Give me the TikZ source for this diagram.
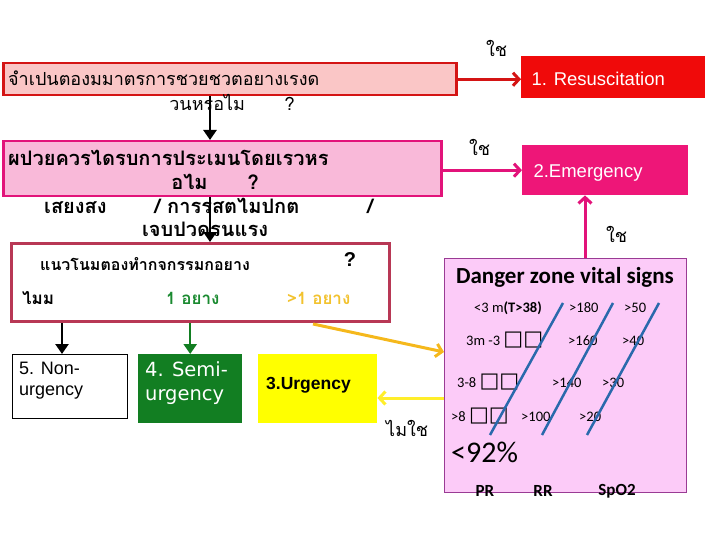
\documentclass[tikz,border=0pt]{standalone}
\usepackage{fontspec}
\setmainfont{Liberation Sans}
\newfontfamily\thai[Script=Thai]{Loma}
\newfontfamily\calib{Carlito}
\newfontfamily\dejavu{DejaVu Sans}
\usetikzlibrary{arrows.meta}
\definecolor{askfill}{HTML}{FAC6C6}
\definecolor{askline}{HTML}{D41414}
\definecolor{resus}{HTML}{F00A0A}
\definecolor{evalfill}{HTML}{F9B9D9}
\definecolor{evalline}{HTML}{E2137A}
\definecolor{emerg}{HTML}{EE1678}
\definecolor{needline}{HTML}{B83855}
\definecolor{semigreen}{HTML}{127E22}
\definecolor{onegreen}{HTML}{1A8A30}
\definecolor{urgyellow}{HTML}{FFFF00}
\definecolor{noyellow}{HTML}{FFEE2A}
\definecolor{moreorange}{HTML}{F5B81C}
\definecolor{morefont}{HTML}{F2C22E}
\definecolor{dangerfill}{HTML}{FCCBF8}
\definecolor{dangerline}{HTML}{9A3B94}
\definecolor{slash}{HTML}{2A69AC}
\tikzset{
  box/.style={draw, inner sep=0pt, anchor=north west},
  th/.style={font=\thai\fontsize{18}{20}\selectfont, inner sep=0pt, anchor=west},
  thb/.style={font=\thai\bfseries\fontsize{20}{22}\selectfont, inner sep=0pt, anchor=west},
  ths/.style={font=\thai\bfseries\fontsize{17}{19}\selectfont, inner sep=0pt, anchor=west},
  vs/.style={font=\calib\fontsize{14.5}{16}\selectfont, inner sep=0pt, anchor=west},
  down/.style={-{Triangle[length=10pt,width=13pt]}, line width=2.5pt},
  link/.style={-{Straight Barb[length=6pt,width=13pt]}, line width=3pt},
  slashline/.style={slash, line width=2.5pt}
}
\begin{document}
\begin{tikzpicture}[x=1pt,y=-1pt]
\useasboundingbox (0,0) rectangle (720,540);
% boxes
\node[box, fill=askfill, draw=askline, line width=2.5pt, minimum width=453pt, minimum height=32pt] (ask) at (2,62) {};
\node[box, fill=resus, draw=none, minimum width=184pt, minimum height=42pt] (resus) at (521,56) {};
\node[box, fill=evalfill, draw=evalline, line width=2.5pt, minimum width=438pt, minimum height=55pt] (eval) at (2,140) {};
\node[box, fill=emerg, draw=none, minimum width=166pt, minimum height=50pt] (emerg) at (522,145) {};
\node[box, fill=white, draw=needline, line width=3pt, minimum width=378pt, minimum height=78pt] (need) at (10,242) {};
\node[box, fill=white, draw=black, line width=1pt, minimum width=115pt, minimum height=64pt] (non) at (12,354) {};
\node[box, fill=semigreen, draw=none, minimum width=104pt, minimum height=69pt] (semi) at (138,354) {};
\node[box, fill=urgyellow, draw=none, minimum width=119pt, minimum height=69pt] (urg) at (258,354) {};
\node[box, fill=dangerfill, draw=dangerline, line width=1pt, minimum width=242pt, minimum height=234pt] (danger) at (444,258) {};

% texts in the boxes
\node[th] (askt) at (8,78) {จำเปนตองมมาตรการชวยชวตอยางเรงด};
\node[th, anchor=center] (askt2) at (232,102) {วนหรอไม\hspace{2.2em}?};
\node[anchor=west, text=white, font=\fontsize{18.5}{20}\selectfont] (resust) at (528,79) {1. Resuscitation};
\node[thb] (evalt) at (8,158) {ผปวยควรไดรบการประเมนโดยเรวหร};
\node[thb, anchor=center] (evalt2) at (215,182) {อไม\hspace{2em}?};
\node[thb] (sign) at (44,206) {เสยงสง\hspace{2.4em}/ การรสตไมปกต\hspace{3.4em}/};
\node[thb, anchor=center] (pain) at (205,229) {เจบปวดรนแรง};
\node[anchor=west, text=white, font=\fontsize{18.5}{20}\selectfont] (emergt) at (530,173) {2.Emergency};
\node[ths, font=\thai\bfseries\fontsize{16}{18}\selectfont] (needt) at (40,264) {แนวโนมตองทำกจกรรมกอยาง};
\node[anchor=center, font=\bfseries\fontsize{20}{22}\selectfont] (needq) at (350,260) {?};
\node[ths] (none) at (22,298) {ไมม};
\node[ths, text=onegreen] (one) at (166,298) {1 อยาง};
\node[ths, text=morefont] (more) at (287,298) {>1 อยาง};
\node[anchor=north west, inner sep=0pt, align=left, font=\fontsize{18}{21}\selectfont] (nont) at (19,362) {5. Non-\\urgency};
\node[anchor=north west, inner sep=0pt, align=left, text=white, font=\dejavu\fontsize{19.5}{24}\selectfont] (semit) at (145,361) {4. Semi-\\urgency};
\node[anchor=west, inner sep=0pt, font=\bfseries\fontsize{17.5}{19}\selectfont] (urgt) at (266,385) {3.Urgency};

% danger zone
\node[anchor=center, inner sep=0pt, font=\calib\bfseries\fontsize{23}{25}\selectfont] (title) at (565,277) {Danger zone vital signs};
\node[vs] (r1) at (474,308) {<3 m\textbf{(T>38)}};
\node[vs] (r1b) at (569,308) {>180};
\node[vs] (r1c) at (624,308) {>50};
\node[vs] (r2) at (466,340) {3m -3 {\dejavu\fontsize{21}{21}\selectfont □□}};
\node[vs] (r2b) at (568,341) {>160};
\node[vs] (r2c) at (622,341) {>40};
\node[vs] (r3) at (457,382) {3-8 {\dejavu\fontsize{21}{21}\selectfont □□}};
\node[vs] (r3b) at (552,383) {>140};
\node[vs] (r3c) at (602,383) {>30};
\node[vs] (r4) at (451,416) {>8 {\dejavu\fontsize{21}{21}\selectfont □□}};
\node[vs] (r4b) at (521,417) {>100};
\node[vs] (r4c) at (579,417) {>20};
\node[vs, font=\calib\fontsize{30}{32}\selectfont] (spo) at (451,452) {<92\%};
\node[vs, font=\calib\bfseries\fontsize{17}{19}\selectfont, anchor=center] (pr) at (485,491) {PR};
\node[vs, font=\calib\bfseries\fontsize{17}{19}\selectfont, anchor=center] (rr) at (543,491) {RR};
\node[vs, font=\calib\bfseries\fontsize{17}{19}\selectfont, anchor=center] (sp) at (617,491) {SpO2};
\draw[slashline] (563,303) -- (490,435);
\draw[slashline] (613,303) -- (542,435);
\draw[slashline] (659,303) -- (587,435);

% connectors
\coordinate (mid) at (210,0);
\coordinate (up) at (585,0);
\coordinate (orA) at (313,324);
\coordinate (orB) at (0,352);
\coordinate (yl) at (0,398);
\draw[down] (ask.south -| mid) -- (eval.north -| mid);
\draw[down] (eval.south -| mid) -- (need.north -| mid);
\draw[down] (need.south -| 62,0) -- (non.north -| 62,0);
\draw[down, semigreen] (need.south -| semi.north) -- (semi.north);
\draw[link, askline] (ask.east) -- (ask.east -| resus.west);
\draw[link, evalline] (eval.east |- emerg.west) -- (emerg.west);
\draw[link, evalline] (danger.north -| up) -- (emerg.south -| up);
\draw[link, moreorange] (orA) -- (danger.west |- orB);
\draw[link, noyellow] (danger.west |- yl) -- (urg.east |- yl);

% labels
\node[th] (yes1) at (486,48) {ใช};
\node[th] (yes2) at (469,147) {ใช};
\node[th] (yes3) at (606,234) {ใช};
\node[th] (no3) at (386,428) {ไมใช};
\end{tikzpicture}
\end{document}
